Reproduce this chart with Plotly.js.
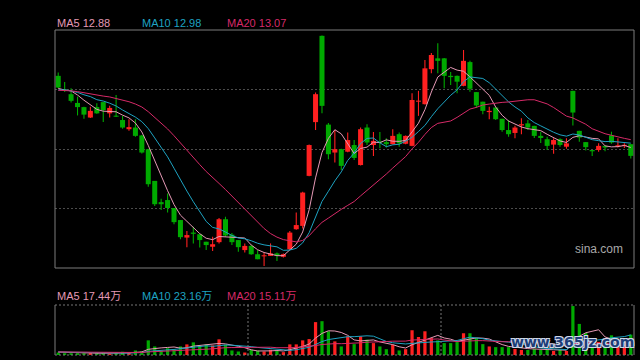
<!DOCTYPE html>
<html><head><meta charset="utf-8">
<script src="https://cdn.plot.ly/plotly-3.0.1.min.js"></script>
<style>html,body{margin:0;padding:0;background:#000;}#chart{width:640px;height:360px;}</style>
</head><body><div id="chart"></div>
<script>
// ---- data ----
const openP = [14.60,14.27,14.16,13.95,13.85,13.60,13.85,13.97,13.70,13.64,
13.54,13.32,13.36,13.17,12.84,12.08,11.57,11.62,11.43,11.14,
10.72,10.84,10.80,10.62,10.50,10.61,11.16,10.79,10.66,10.42,
10.52,10.32,10.27,10.28,10.34,10.26,10.44,10.92,11.00,12.20,
13.49,15.56,13.43,12.76,12.84,12.78,12.94,12.46,13.36,12.94,
13.02,13.01,12.96,13.20,12.97,12.92,13.98,13.92,14.76,15.02,
15.02,14.60,14.60,14.36,14.93,14.21,13.98,13.73,13.84,13.57,
13.30,13.23,13.41,13.46,13.40,13.16,13.08,12.95,13.08,12.90,
14.24,13.28,13.01,12.82,12.82,12.92,13.17,12.91,12.92,12.96];
const highP = [14.68,14.45,14.30,14.10,13.86,13.86,13.94,13.97,13.88,14.14,
13.64,13.56,13.56,13.18,12.85,12.08,11.65,11.78,11.43,11.14,
10.88,10.98,10.80,10.62,10.74,11.19,11.22,10.83,10.66,10.58,
10.54,10.42,10.36,10.58,10.36,10.34,10.88,11.32,11.82,12.95,
14.20,15.57,13.47,13.30,12.85,13.24,13.06,13.36,13.44,13.25,
13.25,13.10,13.32,13.24,13.17,14.18,14.24,14.98,15.15,15.38,
15.03,14.69,14.61,15.22,14.96,14.21,13.98,13.86,13.84,13.57,
13.54,13.40,13.58,13.54,13.40,13.26,13.14,13.10,13.10,13.10,
14.24,13.28,13.01,12.82,12.98,12.92,13.26,13.10,12.98,12.96];
const lowP = [14.31,14.21,13.96,13.65,13.57,13.59,13.69,13.49,13.60,13.61,
13.33,13.28,13.14,12.74,11.94,11.48,11.38,11.32,11.04,10.68,
10.49,10.58,10.48,10.42,10.40,10.58,10.74,10.54,10.38,10.36,
10.31,10.20,10.04,10.28,10.16,10.24,10.42,10.91,10.94,12.19,
13.30,13.70,12.60,12.52,12.34,12.77,12.58,12.45,12.94,12.68,
12.86,12.88,12.95,12.90,12.96,12.91,13.64,13.91,14.66,14.66,
14.30,14.38,14.18,14.35,14.22,13.83,13.68,13.56,13.54,13.26,
13.14,13.10,13.20,13.30,13.11,12.99,12.82,12.73,12.90,12.85,
13.41,13.02,12.81,12.68,12.78,12.79,12.97,12.88,12.87,12.62];
const closeP = [14.32,14.24,14.00,13.85,13.67,13.76,13.70,13.78,13.83,13.62,
13.36,13.37,13.16,12.76,12.00,11.52,11.52,11.43,11.09,10.73,
10.78,10.81,10.66,10.54,10.56,11.16,10.77,10.61,10.49,10.52,
10.32,10.20,10.28,10.34,10.29,10.32,10.84,11.02,11.80,12.94,
14.16,13.88,12.72,12.84,12.44,13.06,12.63,13.32,13.00,13.04,
13.00,12.96,13.16,12.98,13.16,14.02,14.00,14.78,15.10,14.96,
14.60,14.57,14.46,14.96,14.29,13.89,13.76,13.76,13.56,13.30,
13.20,13.36,13.44,13.36,13.16,13.11,12.92,13.06,12.94,12.98,
13.72,13.12,12.89,12.79,12.92,12.88,13.00,12.92,12.93,12.68];
// volume, in 万
const volume = [2.9,2.1,2.1,2.1,2.1,2.1,2.1,2.1,1.4,2.1,
3.8,2.9,5.3,4.1,17.1,10.0,5.0,8.0,6.8,10.0,
12.4,14.8,10.9,12.4,11.2,18.3,12.0,5.3,4.1,2.9,
6.1,5.0,4.1,6.1,5.0,3.3,12.4,12.4,17.1,18.6,
38.4,39.5,27.7,15.9,10.0,21.8,12.7,21.8,17.9,13.9,
10.0,6.8,12.0,5.3,6.8,28.9,21.0,27.7,19.8,17.1,
13.9,13.9,15.1,25.4,25.4,19.8,12.7,10.0,9.2,9.2,
9.2,7.1,5.9,5.9,7.1,5.9,7.1,4.7,5.9,4.7,
57.2,36.3,25.7,13.0,15.3,15.3,23.0,13.0,11.8,23.8];
// sessions just before the visible window (estimated so the averages start where the picture shows)
const priorCloses = [14.30,14.25,14.20,14.28,14.22,14.30,14.26,14.24,14.30,14.15,
14.20,14.26,14.20,14.24,14.20,14.44,14.10,14.35,14.29];
const priorVolumes = [3.2,3.8,3.5,4.0,3.6,3.3,3.9,3.4,3.7,3.5,3.6,3.2,3.8,3.4,3.5,3.9,3.3,3.6,3.4];
const maPeriods = [5, 10, 20];
const priceLegend = ['MA5 12.88', 'MA10 12.98', 'MA20 13.07'];
const volumeLegend = ['MA5 17.44万', 'MA10 23.16万', 'MA20 15.11万'];

// ---- styling ----
const UP = '#ff2020', DOWN = '#00aa00';
const MA_COLORS = ['#e599b5', '#1ea3c2', '#d62a68'];
const idx = closeP.map((_, i) => i);
const candleColor = closeP.map((c, i) => c >= openP[i] ? UP : DOWN);

function movingAvg(series, prior, n) {
  const all = prior.concat(series);
  const off = prior.length;
  return series.map((_, i) => {
    let s = 0;
    for (let k = 0; k < n; k++) s += all[off + i - k];
    return s / n;
  });
}

const traces = [];
// wicks
traces.push({type: 'bar', x: idx, base: lowP, y: highP.map((h, i) => h - lowP[i]),
  width: 0.17, marker: {color: candleColor, line: {width: 0}}, hoverinfo: 'skip',
  xaxis: 'x', yaxis: 'y'});
// bodies
traces.push({type: 'bar', x: idx, base: openP.map((o, i) => Math.min(o, closeP[i])),
  y: openP.map((o, i) => Math.max(Math.abs(closeP[i] - o), 0.025)),
  width: 0.78, marker: {color: candleColor, line: {width: 0}}, hoverinfo: 'skip',
  xaxis: 'x', yaxis: 'y'});
maPeriods.forEach((n, k) => {
  traces.push({type: 'scatter', mode: 'lines', x: idx, y: movingAvg(closeP, priorCloses, n),
    line: {color: MA_COLORS[k], width: 1}, hoverinfo: 'skip', xaxis: 'x', yaxis: 'y'});
});
// volume
traces.push({type: 'bar', x: idx, y: volume, width: 0.5,
  marker: {color: candleColor, line: {width: 0}}, hoverinfo: 'skip', xaxis: 'x', yaxis: 'y2'});
maPeriods.forEach((n, k) => {
  traces.push({type: 'scatter', mode: 'lines', x: idx, y: movingAvg(volume, priorVolumes, n),
    line: {color: MA_COLORS[k], width: 1}, hoverinfo: 'skip', xaxis: 'x', yaxis: 'y2'});
});

// geometry (pixels -> paper)
const W = 640, H = 360, L = 55, R = 6, T = 30, B = 5;
const plotW = W - L - R, plotH = H - T - B;
const py = (y) => (H - B - y) / plotH;   // pixel y -> paper y
const px = (x) => (x - L) / plotW;        // pixel x -> paper x
const mainBottom = py(268), volTop = py(305);
const yRange = [9.99, 15.70];
const grid = [0.25, 0.5, 0.75].map(f => yRange[0] + f * (yRange[1] - yRange[0]));

const FRAME = '#7c7c7c', DOTC = '#4c4c4c';
const shapes = [
  {type: 'rect', xref: 'paper', yref: 'paper', x0: 0, x1: 1, y0: mainBottom, y1: 1, line: {color: FRAME, width: 1}},
  {type: 'line', xref: 'paper', yref: 'paper', x0: 0, x1: 1, y0: volTop, y1: volTop, line: {color: '#777', width: 1, dash: '2px,2px'}},
  {type: 'line', xref: 'paper', yref: 'paper', x0: 0, x1: 1, y0: 0, y1: 0, line: {color: '#777', width: 1, dash: '2px,2px'}},
  {type: 'line', xref: 'paper', yref: 'paper', x0: 0, x1: 0, y0: 0, y1: volTop, line: {color: FRAME, width: 1}},
  {type: 'line', xref: 'paper', yref: 'paper', x0: 1, x1: 1, y0: 0, y1: volTop, line: {color: FRAME, width: 1}},
  {type: 'line', xref: 'paper', yref: 'paper', x0: 1/3, x1: 1/3, y0: 0, y1: volTop, line: {color: '#777', width: 1, dash: '2px,2px'}},
  {type: 'line', xref: 'paper', yref: 'paper', x0: 2/3, x1: 2/3, y0: 0, y1: volTop, line: {color: '#777', width: 1, dash: '2px,2px'}}
];

const legendX = [55, 140, 225];
const annotations = [];
priceLegend.forEach((t, k) => annotations.push({xref: 'paper', yref: 'paper', x: px(legendX[k]), y: py(23),
  xanchor: 'left', yanchor: 'middle', showarrow: false, text: t,
  font: {family: 'Liberation Sans, Arial, sans-serif', size: 11, color: MA_COLORS[k]}}));
volumeLegend.forEach((t, k) => annotations.push({xref: 'paper', yref: 'paper', x: px(legendX[k]), y: py(296),
  xanchor: 'left', yanchor: 'middle', showarrow: false, text: t,
  font: {family: 'Liberation Sans, Noto Sans CJK SC, sans-serif', size: 11, color: MA_COLORS[k]}}));
annotations.push({xref: 'paper', yref: 'paper', x: px(625), y: py(249), xanchor: 'right', yanchor: 'middle',
  showarrow: false, text: 'sina.com', font: {family: 'Liberation Sans, Arial, sans-serif', size: 12, color: '#a8a8a8'}});
annotations.push({xref: 'paper', yref: 'paper', x: px(572), y: py(342), xanchor: 'center', yanchor: 'middle',
  showarrow: false, text: 'www.365jz.com',
  font: {family: 'DejaVu Sans, sans-serif', size: 14, weight: 'bold', color: '#1d3d78',
    shadow: '1px 1px 0 #cfd8e8, -1px -1px 0 #cfd8e8, 1px -1px 0 #cfd8e8, -1px 1px 0 #cfd8e8'}});

const layout = {
  width: W, height: H,
  margin: {l: L, r: R, t: T, b: B, pad: 0},
  paper_bgcolor: '#000', plot_bgcolor: '#000',
  showlegend: false, barmode: 'overlay', hovermode: false,
  xaxis: {range: [-0.5, idx.length - 0.5], showgrid: false, zeroline: false, showticklabels: false,
    showline: false, ticks: '', anchor: 'y2', fixedrange: true},
  yaxis: {domain: [mainBottom, 1], range: yRange, tickvals: grid, showticklabels: false, ticks: '',
    showgrid: true, gridcolor: DOTC, griddash: '2px,2px', gridwidth: 1, zeroline: false, showline: false},
  yaxis2: {domain: [0, volTop], range: [0, 58.4], showgrid: false, showticklabels: false, ticks: '',
    zeroline: false, showline: false},
  shapes: shapes,
  annotations: annotations
};
Plotly.newPlot('chart', traces, layout, {staticPlot: true, displayModeBar: false});
</script>
</body></html>
